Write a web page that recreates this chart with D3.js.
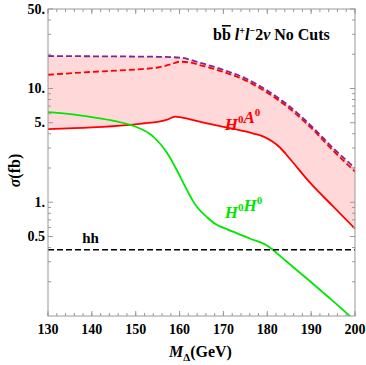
<!DOCTYPE html>
<html>
<head>
<meta charset="utf-8">
<script src="https://cdn.jsdelivr.net/npm/d3@7"></script>
<style>
  body { margin: 0; background: #fff; }
  text { font-family: "Liberation Serif", "DejaVu Serif", serif; }
</style>
</head>
<body>
<script>
const width = 366;
const height = 365;
const margin = { top: 9, right: 11, bottom: 49, left: 48 };

// values (sigma in fb vs M_Delta in GeV)
const massTotal = [130, 140, 150, 155, 160, 165, 170, 175, 180, 185, 190, 195, 200];
const sigmaTotal = [19.3, 19.2, 19.1, 19.0, 18.7, 16.7, 14.6, 12.3, 9.6, 7.0, 4.7, 3.0, 2.0];

const massHADash = [130, 140, 150, 155, 158, 160, 162, 165, 170, 175, 180, 185, 190, 195, 200];
const sigmaHADash = [13.2, 14.0, 14.7, 15.3, 16.3, 17.2, 17.0, 15.9, 14.0, 11.8, 9.2, 6.7, 4.5, 2.85, 1.86];

const massHA = [130, 140, 148, 152, 155, 157, 159, 160, 162, 166, 170, 175, 177, 179, 181, 183, 185, 190, 195, 200];
const sigmaHA = [4.4, 4.55, 4.77, 4.95, 5.1, 5.3, 5.65, 5.6, 5.4, 4.95, 4.6, 4.2, 4.0, 3.8, 3.45, 3.0, 2.45, 1.45, 0.92, 0.585];

const massHH = [130, 135, 140, 145, 150, 153, 154, 155, 156, 157, 158, 159, 160, 161, 162, 163, 164, 165, 166, 168, 171, 173, 176, 180, 183.5, 185, 190, 195, 200];
const sigmaHH = [6.2, 5.95, 5.6, 5.2, 4.61, 4.05, 3.78, 3.45, 3.12, 2.76, 2.4, 2.04, 1.72, 1.445, 1.216, 1.034, 0.907, 0.82, 0.756, 0.65, 0.575, 0.536, 0.48, 0.415, 0.323, 0.288, 0.198, 0.135, 0.091];

const sigmaSM = 0.382;

const xTicks = [130, 140, 150, 160, 170, 180, 190, 200];
const xMinor = d3.range(130, 201, 2);
const yTicks = [0.5, 1, 5, 10, 50];
const yTickLabels = ["0.5", "1.", "5.", "10.", "50."];
const yMinor = [0.2, 0.3, 0.4, 0.6, 0.7, 0.8, 0.9, 2, 3, 4, 6, 7, 8, 9, 20, 30, 40];

const svg = d3.select('body').append('svg').attr('width', width).attr('height', height);

const x = d3.scaleLinear().domain([130, 200]).range([margin.left, width - margin.right]);
const y = d3.scaleLog().domain([0.1, 50]).range([height - margin.bottom, margin.top]);

const defs = svg.append('defs');
defs.append('clipPath').attr('id', 'plot')
  .append('rect')
  .attr('x', x(130)).attr('y', y(50))
  .attr('width', x(200) - x(130)).attr('height', y(0.1) - y(50));

const plot = svg.append('g').attr('clip-path', 'url(#plot)');

const zip = (ms, vs) => ms.map((m, i) => [m, vs[i]]);
const line = d3.line().x(d => x(d[0])).y(d => y(d[1])).curve(d3.curveMonotoneX);

// shaded band between the upper dashed curve and the solid H0A0 curve
const interpTop = d3.scaleLinear().domain(massTotal).range(sigmaTotal.map(Math.log));
const interpBot = d3.scaleLinear().domain(massHA).range(sigmaHA.map(Math.log));
const bandMass = d3.sort(Array.from(new Set(massTotal.concat(massHA))));
const band = d3.area()
  .x(m => x(m))
  .y0(m => y(Math.exp(interpBot(m))))
  .y1(m => y(Math.exp(interpTop(m))))
  .curve(d3.curveMonotoneX);
plot.append('path').attr('d', band(bandMass)).attr('fill', '#ffd9d9');

plot.append('path').attr('d', line(zip(massHA, sigmaHA)))
  .attr('fill', 'none').attr('stroke', '#ff0000').attr('stroke-width', 1.8);

plot.append('path').attr('d', line(zip(massHH, sigmaHH)))
  .attr('fill', 'none').attr('stroke', '#00e600').attr('stroke-width', 1.8);

plot.append('path').attr('d', line(zip(massHADash, sigmaHADash)))
  .attr('fill', 'none').attr('stroke', '#ff0000').attr('stroke-width', 1.8)
  .attr('stroke-dasharray', '6,3');

plot.append('path').attr('d', line(zip(massTotal, sigmaTotal)))
  .attr('fill', 'none').attr('stroke', '#7b2596').attr('stroke-width', 1.8)
  .attr('stroke-dasharray', '6,3');

plot.append('line')
  .attr('x1', x(130)).attr('x2', x(200))
  .attr('y1', y(sigmaSM)).attr('y2', y(sigmaSM))
  .attr('stroke', '#000').attr('stroke-width', 1.6).attr('stroke-dasharray', '6,3');

// frame with inward ticks on all four sides
const frameColor = '#999';
const gx = svg.append('g');
gx.append('rect')
  .attr('x', x(130)).attr('y', y(50))
  .attr('width', x(200) - x(130)).attr('height', y(0.1) - y(50))
  .attr('fill', 'none').attr('stroke', frameColor).attr('stroke-width', 1);

function xTick(v, len) {
  gx.append('line').attr('x1', x(v)).attr('x2', x(v))
    .attr('y1', y(0.1)).attr('y2', y(0.1) - len).attr('stroke', frameColor);
  gx.append('line').attr('x1', x(v)).attr('x2', x(v))
    .attr('y1', y(50)).attr('y2', y(50) + len).attr('stroke', frameColor);
}
function yTick(v, len) {
  gx.append('line').attr('x1', x(130)).attr('x2', x(130) + len)
    .attr('y1', y(v)).attr('y2', y(v)).attr('stroke', frameColor);
  gx.append('line').attr('x1', x(200)).attr('x2', x(200) - len)
    .attr('y1', y(v)).attr('y2', y(v)).attr('stroke', frameColor);
}
xMinor.forEach(v => xTick(v, 3));
xTicks.forEach(v => xTick(v, 5));
yMinor.forEach(v => yTick(v, 3));
yTicks.forEach(v => yTick(v, 5));

svg.selectAll('.xlab').data(xTicks).enter().append('text')
  .attr('class', 'xlab')
  .attr('x', d => x(d)).attr('y', y(0.1) + 18)
  .attr('text-anchor', 'middle')
  .attr('font-size', 14).attr('font-weight', 'bold')
  .text(d => d);

svg.selectAll('.ylab').data(yTicks).enter().append('text')
  .attr('class', 'ylab')
  .attr('x', x(130) - 3).attr('y', d => y(d) + 4.5)
  .attr('text-anchor', 'end')
  .attr('font-size', 14).attr('font-weight', 'bold')
  .text((d, i) => yTickLabels[i]);

// axis titles
const xt = svg.append('text')
  .attr('x', (x(130) + x(200)) / 2 - 1).attr('y', height - 8)
  .attr('text-anchor', 'middle').attr('font-size', 16).attr('font-weight', 'bold');
xt.append('tspan').attr('font-style', 'italic').text('M');
xt.append('tspan').attr('font-size', 11).attr('dy', 4).text('Δ');
xt.append('tspan').attr('dy', -4).text('(GeV)');

const yt = svg.append('text')
  .attr('transform', `translate(20,${(y(0.1) + y(50)) / 2 + 8}) rotate(-90)`)
  .attr('text-anchor', 'middle').attr('font-size', 16).attr('font-weight', 'bold');
yt.append('tspan').attr('font-style', 'italic').text('σ');
yt.append('tspan').text('(fb)');

// title
const tt = svg.append('text')
  .attr('x', 213).attr('y', 40)
  .attr('font-size', 16).attr('font-weight', 'bold');
tt.append('tspan').text('b');
tt.append('tspan').style('text-decoration', 'overline').text('b');
tt.append('tspan').attr('font-style', 'italic').text(' l');
tt.append('tspan').attr('font-size', 10).attr('dy', -6).text('+');
tt.append('tspan').attr('font-style', 'italic').attr('dy', 6).text('l');
tt.append('tspan').attr('font-size', 10).attr('dy', -6).text('−');
tt.append('tspan').attr('dy', 6).text('2');
tt.append('tspan').attr('font-style', 'italic').text('ν');
tt.append('tspan').text(' No Cuts');

// curve labels
function label(px, py, color, parts) {
  const t = svg.append('text').attr('x', px).attr('y', py)
    .attr('font-size', 17).attr('font-weight', 'bold').attr('font-style', 'italic')
    .attr('fill', color);
  parts.forEach(p => {
    t.append('tspan').text(p[0]);
    t.append('tspan').attr('font-size', 11).attr('font-style', 'normal').attr('dy', -7).text(p[1]);
    t.append('tspan').attr('dy', 7).text('');
  });
}
label(x(170.3), y(4.3), '#ff0000', [['H', '0'], ['A', '0']]);
label(x(170.3), y(0.72), '#00e600', [['H', '0'], ['H', '0']]);

svg.append('text').attr('x', x(137.8)).attr('y', y(0.435))
  .attr('font-size', 15).attr('font-weight', 'bold').text('hh');
</script>
</body>
</html>
